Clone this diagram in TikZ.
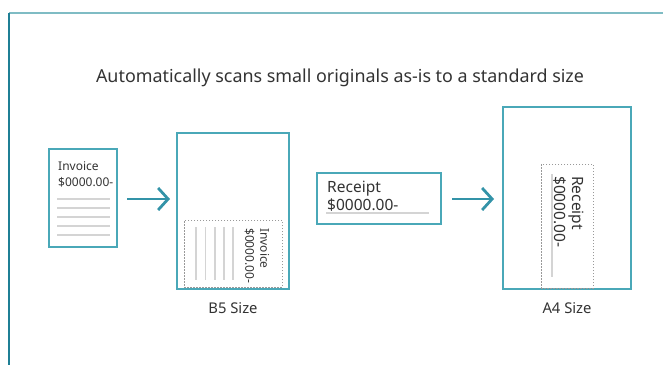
\documentclass[tikz,border=0pt]{standalone}
\usepackage{fontspec}
\setmainfont{Noto Sans}
\usetikzlibrary{arrows.meta}
\definecolor{frametop}{HTML}{7FBCC4}
\definecolor{frameleft}{HTML}{1F7F95}
\definecolor{boxc}{HTML}{4AA8B8}
\definecolor{arrc}{HTML}{3393A8}
\definecolor{linegray}{HTML}{D4D4D4}
\definecolor{txt}{HTML}{333333}
\tikzset{
  paper/.style={draw=boxc, line width=1.5pt, fill=white},
  scanarea/.style={draw=gray!80, dash pattern=on 1.5pt off 1.5pt, line width=0.8pt},
  ruling/.style={draw=linegray, line width=1.8pt},
  flow/.style={draw=arrc, line width=2.8pt, -{Straight Barb[length=10pt,width=22pt,line width=2.8pt]}},
  lbl/.style={text=txt, font=\fontsize{12}{16}\selectfont, inner sep=0pt, align=left},
  biglbl/.style={text=txt, font=\fontsize{15.5}{17.5}\selectfont, inner sep=0pt, align=left},
  sizelbl/.style={text=txt, font=\fontsize{14.8}{17}\selectfont, inner sep=0pt},
}
\begin{document}
\begin{tikzpicture}[x=1pt,y=-1pt]
\useasboundingbox (0,0) rectangle (663,365);
% frame
\coordinate (ftl) at (9,12.5);
\coordinate (ftr) at (663,12.5);
\coordinate (fbl) at (9,365);
\draw[frametop, line width=2pt] (ftl) -- (ftr);
\draw[frameleft, line width=1.5pt] (ftl) -- (fbl);
% title
\node[text=txt, font=\fontsize{17.9}{20}\selectfont, inner sep=0pt] (title) at (340,78) {Automatically scans small originals as-is to a standard size};
% invoice
\node[paper, minimum width=68pt, minimum height=98pt, inner sep=0pt] (inv) at (83,198) {};
\node[lbl, anchor=north west] (invt) at (58,161) {Invoice\\\$0000.00-};
\foreach \yy in {199,208,217,226,235} \draw[ruling] (57,\yy) -- (110,\yy);
% arrow 1
\coordinate (a1s) at (127,199);
\coordinate (a1e) at (170,199);
\draw[flow] (a1s) -- (a1e);
% B5
\node[paper, minimum width=112pt, minimum height=156pt, inner sep=0pt] (b5) at (233,211) {};
\node[scanarea, minimum width=98pt, minimum height=67pt, inner sep=0pt] (b5scan) at (233,253.5) {};
\foreach \xx in {196,205.5,215,224,233} \draw[ruling] (\xx,227) -- (\xx,280);
\node[lbl, rotate=-90, anchor=north west, font=\fontsize{12}{15}\selectfont] (b5t) at (269.5,228) {Invoice\\\$0000.00-};
\node[sizelbl] (b5l) at (233,308) {B5 Size};
% receipt
\node[paper, minimum width=124pt, minimum height=51pt, inner sep=0pt] (rec) at (379,198.5) {};
\node[biglbl, anchor=north west] (rect) at (327,181) {Receipt\\\$0000.00-};
\draw[ruling] (326,213) -- (429,213);
% arrow 2
\coordinate (a2s) at (452,199);
\coordinate (a2e) at (494,199);
\draw[flow] (a2s) -- (a2e);
% A4
\node[paper, minimum width=128pt, minimum height=182pt, inner sep=0pt] (a4) at (567,198) {};
\node[scanarea, minimum width=52pt, minimum height=124pt, inner sep=0pt] (a4scan) at (567,226) {};
\draw[ruling] (552,174) -- (552,277);
\node[biglbl, rotate=-90, anchor=north west] (a4t) at (584,176) {Receipt\\\$0000.00-};
\node[sizelbl] (a4l) at (567,308) {A4 Size};
\end{tikzpicture}
\end{document}
